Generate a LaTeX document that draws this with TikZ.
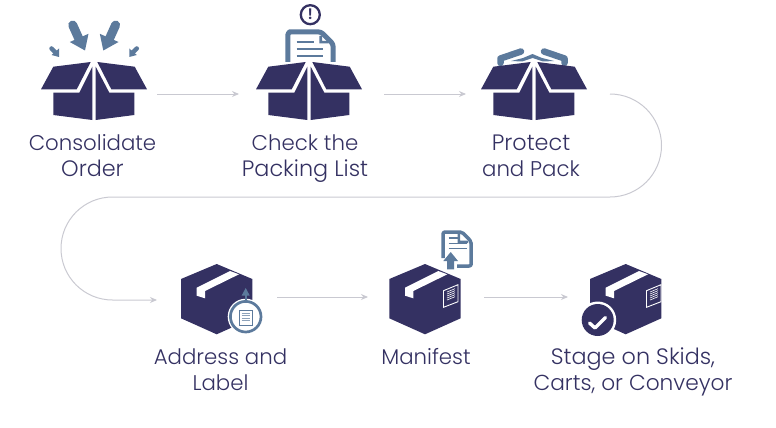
\documentclass[tikz,border=0pt]{standalone}
\usepackage{fontspec}
\setmainfont{Poppins Light}
\usetikzlibrary{arrows.meta}
\definecolor{navy}{HTML}{343162}
\definecolor{steel}{HTML}{5C7A9C}
\definecolor{flow}{HTML}{C9C9D1}
\tikzset{
  x=1pt,y=-1pt,
  lbl/.style={font=\fontsize{21.3}{26}\selectfont,text=navy,align=center,inner sep=0pt,anchor=base},
  lblwide/.style={lbl,font=\fontsize{22.3}{26}\selectfont},
  flowline/.style={draw=flow,line width=1pt,-{Stealth[length=7pt,width=6pt]}},
  openbox/.pic={
    \fill[navy] (53.3,66.7)--(90.7,62)--(76.7,89.3)--(41,89.3)--cycle;
    \fill[navy] (97.3,62)--(134.7,66.7)--(147,89.3)--(111.3,89.3)--cycle;
    \fill[navy] (53.3,92.7)--(79.3,92.7)--(92.3,66.7)--(92.3,120)--(53.3,115)--cycle;
    \fill[navy] (95.7,66.7)--(95.7,120)--(134.3,115)--(134.3,92.7)--(109.3,92.7)--cycle;
  },
  cube/.pic={
    \fill[navy] (216.7,264)--(252.3,279)--(252.3,318.3)--(216.7,334.3)--(181,318.3)--(181,279)--cycle;
    \fill[white] (196.7,287.7)--(230,271)--(239,274.3)--(205,291)--(205,298.3)--(196.7,295.7)--cycle;
  },
  bigarrow/.pic={
    \draw[steel,line width=9pt,line cap=round] (72.7,25)--(79,39);
    \fill[steel] (85,50.5)--(69.8,42)--(88.5,33.8)--cycle;
  },
  smallarrow/.pic={
    \draw[steel,line width=4.5pt,line cap=round] (51.5,48.5)--(56,53);
    \fill[steel] (59,57)--(51.5,55)--(59,48.5)--cycle;
  },
  hand/.pic={
    \draw[steel,line width=6.5pt,line cap=round,line join=round] (500.5,63)--(500.5,58.5)--(521,51.5);
  }
}
\begin{document}
\begin{tikzpicture}
\useasboundingbox (0,0) rectangle (776,428);
% anchors of the connectors
\coordinate (a1) at (157,94);  \coordinate (a2) at (239,94);
\coordinate (b1) at (384,94);  \coordinate (b2) at (466,94);
\coordinate (c1) at (610,94);  \coordinate (c2) at (157,300);
\coordinate (c3) at (112.5,197);
\coordinate (d1) at (277,297); \coordinate (d2) at (368,297);
\coordinate (e1) at (484,297); \coordinate (e2) at (568,297);
\path[flowline] (a1)--(a2);
\path[flowline] (b1)--(b2);
\path[flowline] (c1) arc[start angle=-90,end angle=90,radius=51.5]
   -- (c3) arc[start angle=-90,end angle=-270,radius=51.5] -- (c2);
\path[flowline] (d1)--(d2);
\path[flowline] (e1)--(e2);

% icon 1
\pic at (0,0) {openbox};
\pic at (0,0) {bigarrow};
\pic[transform shape,xscale=-1] at (188.3,0) {bigarrow};
\pic at (0,0) {smallarrow};
\pic[transform shape,xscale=-1] at (188.3,0) {smallarrow};

% icon 2
\draw[steel,line width=5pt,line join=round,rounded corners=3pt]
  (287.8,62)--(287.8,32)--(292.5,31.8)--(321,31.8)--(333.2,44)--(333.2,62);
\fill[steel] (319.3,36)--(319.3,43.5)--(328.5,43.5)--(328.5,41)--(322,41)--(322,36)--cycle;
\draw[steel,line width=2pt] (296.7,42.3)--(314,42.3) (296.7,49.3)--(323.3,49.3) (296.7,56)--(323.3,56);
\pic at (215,0) {openbox};
\draw[navy,line width=2.3pt] (310.3,14.7) circle[radius=9.5];
\node[inner sep=0pt] (excl) at (310.3,14.5) {\textcolor{navy}{\fontsize{15}{15}\fontspec{Poppins SemiBold}\selectfont !}};

% icon 3
\pic at (0,0) {hand};
\pic[transform shape,xscale=-1] at (1065,0) {hand};
\fill[steel] (511,61)--(523,58)--(532.5,54)--(542,58)--(554,61)--(543,61.5)--(532.5,58)--(522,61.5)--cycle;
\pic at (440,0) {openbox};

% icon 4
\pic at (0,0) {cube};
\fill[white] (245.7,316.7) circle[radius=18];
\draw[steel,line width=1.8pt] (245.7,295)--(245.7,302);
\fill[steel] (245.7,288)--(249.7,295.5)--(241.7,295.5)--cycle;
\draw[steel,line width=2.7pt] (245.7,316.7) circle[radius=15.3];
\draw[steel,fill=white,line width=.8pt] (239,310)rectangle(252.7,325.7);
\draw[steel!70,line width=.7pt] (241.5,313)--(250,313) (241.5,315.5)--(250,315.5) (241.5,318)--(250,318) (241.5,320.5)--(250,320.5);

% icon 5
\pic at (208.3,0) {cube};
\draw[white,line width=.9pt] (443.5,290.7)--(458,284.7)--(458,301.7)--(443.5,307.3)--cycle;
\draw[white,line width=.6pt] (447,292)--(455,288.7) (447,294)--(455,290.7) (447,296)--(455,292.7) (447,298)--(455,294.7) (447,300)--(455,296.7);
\draw[steel,line width=3.5pt,line join=round,rounded corners=2pt]
  (443,258)--(443,232)--(462,232)--(471.2,241.5)--(471.2,266)--(457,266);
\fill[steel] (457.5,234)--(457.5,243)--(468,243)--(468,240.5)--(460,240.5)--(460,234)--cycle;
\draw[steel,line width=1.6pt] (448.5,237.7)--(460,237.7)  (448.5,243.3)--(466.5,243.3) (448.5,248.3)--(466.5,248.3);
\fill[steel] (450.7,252)--(458,261)--(454,261)--(454,269.3)--(447,269.3)--(447,261)--(443.3,261)--cycle;

% icon 6
\pic at (409,0) {cube};
\draw[white,line width=.9pt] (646.5,290.7)--(661,284.7)--(661,301.7)--(646.5,307.3)--cycle;
\draw[white,line width=.6pt] (650,292)--(658,288.7) (650,294)--(658,290.7) (650,296)--(658,292.7) (650,298)--(658,294.7) (650,300)--(658,296.7);
\fill[white] (597.7,320) circle[radius=18.5];
\fill[navy] (597.7,320) circle[radius=16];
\draw[white,line width=3.4pt,line cap=round,line join=round] (589.5,323)--(595,328)--(605.5,317.5);

% labels
\node[lbl] (l1a) at (92.5,150) {Consolidate};
\node[lblwide] (l1b) at (92.5,176) {Order};
\node[lbl] (l2a) at (305,150) {Check the};
\node[lblwide] (l2b) at (305,176) {Packing List};
\node[lblwide] (l3a) at (531,150) {Protect};
\node[lbl] (l3b) at (531,176) {and Pack};
\node[lbl] (l4a) at (220.5,364) {Address and};
\node[lbl] (l4b) at (220.5,390) {Label};
\node[lbl] (l5) at (426,364) {Manifest};
\node[lblwide] (l6a) at (633,364) {Stage on Skids,};
\node[lbl,font=\fontsize{21.7}{26}\selectfont] (l6b) at (633,390) {Carts, or Conveyor};
\end{tikzpicture}
\end{document}
